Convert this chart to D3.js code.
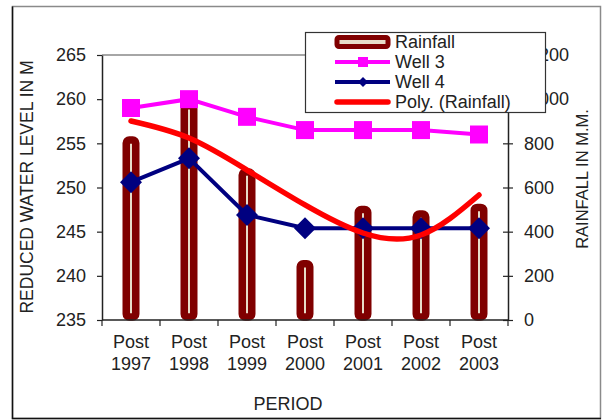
<!DOCTYPE html>
<html>
<head>
<meta charset="utf-8">
<script src="https://cdn.jsdelivr.net/npm/d3@7"></script>
<style>
  body { margin: 0; background: #fff; }
  text { font-family: Arial, "Liberation Sans", sans-serif; fill: #222; }
</style>
</head>
<body>
<div id="chart"></div>
<script>
    const width = 602, height = 420;

    // data
    const periods = ["1997", "1998", "1999", "2000", "2001", "2002", "2003"];
    const rainfall = [815, 970, 670, 255, 500, 480, 510];
    const well3 = [259.0, 260.0, 258.0, 256.5, 256.5, 256.5, 256.0];
    const well4 = [250.6, 253.3, 246.9, 245.4, 245.4, 245.4, 245.4];
    const polyRain = [901, 824, 679, 521, 394, 385, 566];
    const leftTicks = [235, 240, 245, 250, 255, 260, 265];
    const rightTicks = [0, 200, 400, 600, 800, 1000, 1200];

    const plot = { left: 102, right: 508, top: 55, bottom: 320 };

    const svg = d3.select("#chart").append("svg")
        .attr("width", width)
        .attr("height", height);

    // outer frame
    svg.append("rect")
        .attr("x", 12.5).attr("y", 6.5)
        .attr("width", 588).attr("height", 412)
        .attr("fill", "#fff").attr("stroke", "#8a8a8a").attr("stroke-width", 1.5);
    svg.append("path")
        .attr("d", "M12.5,6.5 V418.5 H601")
        .attr("fill", "none").attr("stroke", "#111").attr("stroke-width", 1.5);

    const x = d3.scaleBand().domain(periods).range([plot.left, plot.right]);
    const yL = d3.scaleLinear().domain([235, 265]).range([plot.bottom, plot.top]);
    const yR = d3.scaleLinear().domain([0, 1200]).range([plot.bottom, plot.top]);
    const cx = d => x(d) + x.bandwidth() / 2;

    // top border of plot area
    svg.append("line")
        .attr("x1", plot.left).attr("x2", plot.right)
        .attr("y1", plot.top).attr("y2", plot.top)
        .attr("stroke", "#888").attr("stroke-width", 1.5);

    // rainfall bars (outlined, narrow)
    svg.append("g").selectAll("rect")
        .data(periods)
        .join("rect")
        .attr("x", d => cx(d) - 4.75)
        .attr("width", 9.5)
        .attr("y", (d, i) => yR(rainfall[i]))
        .attr("height", (d, i) => yR(0) - yR(rainfall[i]) - 3)
        .attr("rx", 3)
        .attr("fill", "#e8dcc8")
        .attr("stroke", "#800000")
        .attr("stroke-width", 7.5);

    // left axis
    const gL = svg.append("g")
        .attr("transform", `translate(${plot.left},0)`)
        .call(d3.axisLeft(yL).tickValues(leftTicks).tickSize(5).tickSizeOuter(0).tickPadding(11));
    // right axis
    const gR = svg.append("g")
        .attr("transform", `translate(${plot.right},0)`)
        .call(d3.axisRight(yR).tickValues(rightTicks).tickSize(5).tickSizeOuter(0).tickPadding(11));
    gR.selectAll(".tick").append("line").attr("x1", -5).attr("x2", 0).attr("stroke", "#222");

    [gL, gR].forEach(g => {
        g.select(".domain").attr("stroke", "#222").attr("stroke-width", 1.5);
        g.selectAll(".tick line").attr("stroke", "#222").attr("stroke-width", 1.2);
        g.selectAll(".tick text").attr("font-size", 18).attr("fill", "#222")
            .attr("font-family", "Arial, 'Liberation Sans', sans-serif");
    });

    // x axis
    const gX = svg.append("g");
    gX.append("line")
        .attr("x1", plot.left).attr("x2", plot.right)
        .attr("y1", plot.bottom).attr("y2", plot.bottom)
        .attr("stroke", "#222").attr("stroke-width", 1.5);
    gX.selectAll(".xt")
        .data(periods.map(d => x(d)).concat([plot.right]))
        .join("line")
        .attr("x1", d => d).attr("x2", d => d)
        .attr("y1", plot.bottom).attr("y2", plot.bottom + 6)
        .attr("stroke", "#222").attr("stroke-width", 1.2);
    const xl = gX.selectAll(".xl")
        .data(periods)
        .join("text")
        .attr("text-anchor", "middle")
        .attr("font-size", 18)
        .attr("x", d => cx(d));
    xl.append("tspan").attr("x", d => cx(d)).attr("y", 348).text("Post");
    xl.append("tspan").attr("x", d => cx(d)).attr("y", 370).text(d => d);

    // axis titles
    svg.append("text")
        .attr("transform", "translate(33,187) rotate(-90)")
        .attr("text-anchor", "middle").attr("font-size", 17.5)
        .text("REDUCED WATER LEVEL IN M");
    svg.append("text")
        .attr("transform", "translate(588,179) rotate(-90)")
        .attr("text-anchor", "middle").attr("font-size", 16.5)
        .text("RAINFALL IN M.M.");
    svg.append("text")
        .attr("x", 288).attr("y", 410)
        .attr("text-anchor", "middle").attr("font-size", 18)
        .text("PERIOD");

    // Well 3
    const line3 = d3.line().x((d, i) => cx(periods[i])).y(d => yL(d));
    svg.append("path").datum(well3)
        .attr("d", line3).attr("fill", "none")
        .attr("stroke", "#ff00ff").attr("stroke-width", 4);
    svg.append("g").selectAll("rect")
        .data(well3)
        .join("rect")
        .attr("x", (d, i) => cx(periods[i]) - 9)
        .attr("y", d => yL(d) - 9)
        .attr("width", 18).attr("height", 18)
        .attr("fill", "#ff00ff");

    // Well 4
    svg.append("path").datum(well4)
        .attr("d", line3).attr("fill", "none")
        .attr("stroke", "#000080").attr("stroke-width", 4);
    svg.append("g").selectAll("path")
        .data(well4)
        .join("path")
        .attr("d", (d, i) => {
            const px = cx(periods[i]), py = yL(d);
            return `M${px},${py - 11}L${px + 11},${py}L${px},${py + 11}L${px - 11},${py}Z`;
        })
        .attr("fill", "#000080");

    // polynomial trend of rainfall
    svg.append("path").datum(polyRain)
        .attr("d", d3.line().x((d, i) => cx(periods[i])).y(d => yR(d)).curve(d3.curveNatural))
        .attr("fill", "none")
        .attr("stroke", "#ff0000").attr("stroke-width", 5.5)
        .attr("stroke-linecap", "round");

    // legend
    const lg = svg.append("g");
    lg.append("rect")
        .attr("x", 305.5).attr("y", 32.5)
        .attr("width", 240).attr("height", 80)
        .attr("fill", "#fff").attr("stroke", "#333").attr("stroke-width", 1.2);
    const rows = [42, 62, 82, 102];
    lg.append("rect")
        .attr("x", 337).attr("y", rows[0] - 4.5)
        .attr("width", 51).attr("height", 9).attr("rx", 2)
        .attr("fill", "#e8dcc8").attr("stroke", "#800000").attr("stroke-width", 5);
    lg.append("line").attr("x1", 335).attr("x2", 390).attr("y1", rows[1]).attr("y2", rows[1])
        .attr("stroke", "#ff00ff").attr("stroke-width", 4);
    lg.append("rect").attr("x", 358).attr("y", rows[1] - 5).attr("width", 10).attr("height", 10)
        .attr("fill", "#ff00ff");
    lg.append("line").attr("x1", 335).attr("x2", 390).attr("y1", rows[2]).attr("y2", rows[2])
        .attr("stroke", "#000080").attr("stroke-width", 4);
    lg.append("path")
        .attr("d", `M363,${rows[2] - 5}L368,${rows[2]}L363,${rows[2] + 5}L358,${rows[2]}Z`)
        .attr("fill", "#000080");
    lg.append("line").attr("x1", 337).attr("x2", 388).attr("y1", rows[3]).attr("y2", rows[3])
        .attr("stroke", "#ff0000").attr("stroke-width", 5.5).attr("stroke-linecap", "round");
    lg.selectAll(".lt")
        .data(["Rainfall", "Well 3", "Well 4", "Poly. (Rainfall)"])
        .join("text")
        .attr("x", 395)
        .attr("y", (d, i) => rows[i] + 6)
        .attr("font-size", 18)
        .text(d => d);
</script>
</body>
</html>
